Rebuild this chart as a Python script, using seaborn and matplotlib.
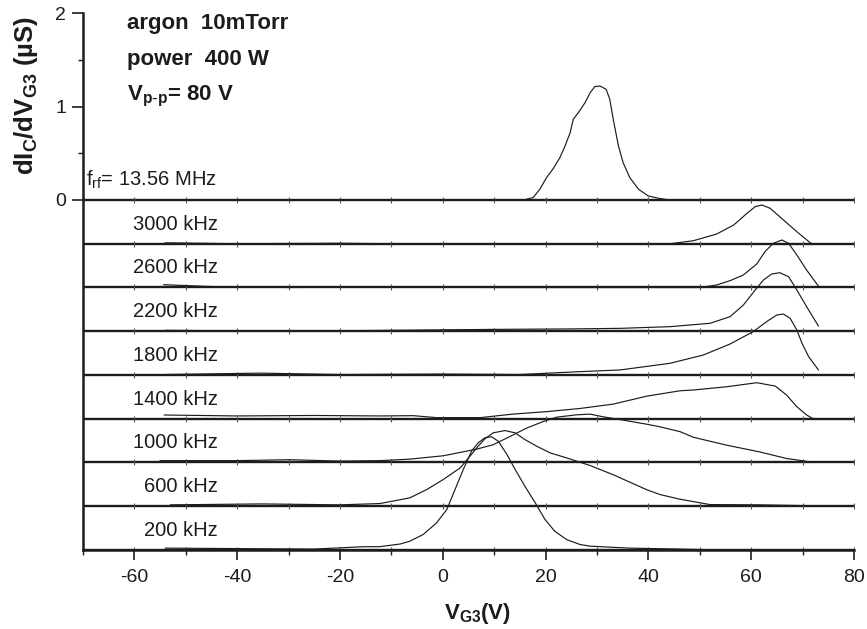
import numpy as np
import matplotlib
matplotlib.use("Agg")
import matplotlib.pyplot as plt
import seaborn as sns

# ---- measured ion energy distributions: retarding voltage V_G3 (V) vs dIc/dV_G3 (uS)
v_13560kHz = [-54, -30, 0, 15.7, 17.6, 18.9, 20.2, 21.5, 22.8, 23.8, 24.8, 25.4, 26.4, 27.7,
              28.7, 29.6, 30.6, 31.8, 32.5, 33.3, 34.2, 35.1, 36.4, 38.1, 40.0, 42.3, 44.2, 72]
g_13560kHz = [0, 0, 0, 0, 0.026, 0.115, 0.24, 0.336, 0.454, 0.578, 0.722, 0.865, 0.936, 1.043,
              1.15, 1.215, 1.221, 1.186, 1.079, 0.829, 0.578, 0.40, 0.24, 0.115, 0.043, 0.015,
              0.0, 0]

v_3000kHz = [-54, -40, -20, 0, 20, 34.5, 44.3, 48.8, 53.3, 56.6, 59.2, 60.8, 62.1, 63.7,
             66.3, 68.9, 71.5, 71.8]
g_3000kHz = [0.01, 0.0, 0.005, -0.005, 0.0, 0.0, 0.0, 0.033, 0.104, 0.20, 0.326, 0.397, 0.415,
             0.38, 0.254, 0.129, 0.011, 0]

v_2600kHz = [-54.3, -45, -30, -10, 10, 30, 50.1, 53.3, 55.9, 58.5, 61.1, 62.7, 64.3, 66.0,
             67.3, 68.9, 70.8, 73.3]
g_2600kHz = [0.03, 0.01, 0.0, 0.005, 0.0, 0.0, 0.0, 0.027, 0.073, 0.134, 0.252, 0.384, 0.473,
             0.509, 0.473, 0.348, 0.187, 0.0]

v_2200kHz = [-54, -30, -10, 10, 25, 34.5, 44.2, 52.0, 55.9, 58.5, 60.8, 62.4, 64.0, 65.6,
             67.3, 68.9, 70.8, 73.1]
g_2200kHz = [0.01, 0.0, 0.01, 0.02, 0.025, 0.031, 0.049, 0.085, 0.156, 0.281, 0.442, 0.549,
             0.613, 0.627, 0.584, 0.442, 0.263, 0.056]

v_1800kHz = [-54, -35.6, -20, 0, 15, 26.3, 34.5, 44.2, 50.7, 55.9, 60.4, 63.0, 65.0, 66.3,
             67.6, 68.9, 69.9, 71.2, 73.1]
g_1800kHz = [0.005, 0.02, 0.005, 0.01, 0.005, 0.035, 0.054, 0.125, 0.214, 0.332, 0.464, 0.571,
             0.643, 0.653, 0.607, 0.482, 0.34, 0.196, 0.054]

v_1400kHz = [-54.2, -40, -25, -12.2, -5.7, -1.2, 7.3, 13.7, 20.2, 26.7, 33.2, 39.7, 42.3,
             46.2, 48.8, 55.3, 61.1, 64.7, 66.9, 68.9, 70.8, 72.1]
g_1400kHz = [0.04, 0.03, 0.035, 0.03, 0.033, 0.012, 0.012, 0.05, 0.076, 0.11, 0.157, 0.242,
             0.265, 0.30, 0.308, 0.343, 0.386, 0.35, 0.254, 0.129, 0.04, 0.0]

v_1000kHz = [-55, -40, -29.8, -20, -12.2, -6.4, 0.1, 6.6, 9.8, 13.1, 16.3, 19.6, 22.2, 26.1,
             28.7, 31.2, 34.5, 39.7, 42.3, 46.2, 48.8, 55.3, 61.7, 66.9, 71.5, 72.5]
g_1000kHz = [0.02, 0.02, 0.03, 0.015, 0.02, 0.036, 0.072, 0.143, 0.19, 0.279, 0.368, 0.44,
             0.486, 0.511, 0.518, 0.49, 0.46, 0.41, 0.382, 0.33, 0.27, 0.185, 0.113, 0.043,
             0.007, 0.0]

v_600kHz = [-53, -35, -20, -12.2, -8.3, -6.4, -3.1, 0.1, 3.4, 5.3, 6.9, 8.2, 9.8, 12.1, 14.1,
            16.0, 18.3, 20.9, 24.1, 28.7, 33.2, 39.7, 42.3, 46.2, 52.0, 61.7, 72]
g_600kHz = [0.015, 0.025, 0.015, 0.029, 0.07, 0.09, 0.179, 0.286, 0.411, 0.536, 0.643, 0.722,
            0.786, 0.811, 0.786, 0.714, 0.643, 0.572, 0.518, 0.436, 0.337, 0.177, 0.125, 0.075,
            0.018, 0.015, 0.005]

v_200kHz = [-54, -40, -25, -15.5, -12.2, -8.3, -6.4, -3.8, -1.2, 0.8, 2.4, 4.0, 5.6, 6.9, 8.2,
            9.5, 10.8, 12.5, 14.1, 16.0, 18.0, 19.9, 21.8, 24.1, 26.7, 28.7, 36.4, 46.2, 54.5]
g_200kHz = [0.02, 0.015, 0.01, 0.035, 0.036, 0.064, 0.094, 0.166, 0.29, 0.434, 0.648, 0.862,
            1.058, 1.148, 1.202, 1.213, 1.166, 1.023, 0.862, 0.683, 0.506, 0.327, 0.201, 0.112,
            0.059, 0.041, 0.02, 0.01, 0.0]

freq_labels = ["3000 kHz", "2600 kHz", "2200 kHz", "1800 kHz",
               "1400 kHz", "1000 kHz", "600 kHz", "200 kHz"]
top_label = r"f$_{rf}$= 13.56 MHz"
conditions = ["argon  10mTorr", "power  400 W", r"V$_{p\text{-}p}$= 80 V"]

x_major = [-60, -40, -20, 0, 20, 40, 60, 80]
y_major = [0, 1, 2]

curves = [
    (v_13560kHz, g_13560kHz),
    (v_3000kHz, g_3000kHz),
    (v_2600kHz, g_2600kHz),
    (v_2200kHz, g_2200kHz),
    (v_1800kHz, g_1800kHz),
    (v_1400kHz, g_1400kHz),
    (v_1000kHz, g_1000kHz),
    (v_600kHz, g_600kHz),
    (v_200kHz, g_200kHz),
]

# ---- style
sns.set_theme(style="ticks")
plt.rcParams["font.family"] = ["Liberation Sans", "DejaVu Sans"]
plt.rcParams["mathtext.default"] = "regular"
plt.rcParams["axes.unicode_minus"] = False
INK = "#1c1c1c"

STEP = 0.4687           # vertical offset between stacked traces
X_MIN, X_MAX = -70, 80

fig = plt.figure(figsize=(8.67, 6.29), dpi=100)
ax = fig.add_axes([82.9 / 867, 1 - 550 / 629, (853.9 - 82.9) / 867, (550 - 13.3) / 629])

x_minor = np.arange(X_MIN, X_MAX + 1, 10)

for k, (v, g) in enumerate(curves):
    base = -STEP * k
    ax.axhline(base, color=INK, lw=1.7, zorder=2)
    ax.plot(x_minor, np.full(len(x_minor), base), ls="none", marker="|",
            ms=4.5, mew=0.8, color="#555555", zorder=2)
    sns.lineplot(x=v, y=np.asarray(g) + base, ax=ax, color=INK, lw=0.85,
                 sort=False, estimator=None, zorder=3,
                 solid_joinstyle="round", solid_capstyle="round")

for k, lab in enumerate(freq_labels, start=1):
    ax.text(-43.8, -STEP * k + 0.21, lab, ha="right", va="center",
            fontsize=14.5, color=INK)

ax.text(-69.4, 0.214, top_label, ha="left", va="center", fontsize=14.5, color=INK)

for lab, yb in zip(conditions, [1.83, 1.447, 1.072]):
    ax.text(-61.4, yb, lab, ha="left", va="baseline", fontsize=16,
            fontweight="bold", color=INK)

ax.set_xlim(X_MIN, X_MAX)
ax.set_ylim(-STEP * 8, 2)
ax.set_xticks(x_major)
ax.set_xticks(x_minor, minor=True)
ax.set_yticks(y_major)
ax.set_yticks([0.5, 1.5], minor=True)

for side in ("top", "right"):
    ax.spines[side].set_visible(False)
for side in ("left", "bottom"):
    ax.spines[side].set_linewidth(1.8)
    ax.spines[side].set_color(INK)

ax.tick_params(axis="x", which="major", direction="out", length=7.5, width=1.2,
               color=INK, labelsize=14, labelcolor=INK, pad=6)
ax.tick_params(axis="y", which="major", direction="out", length=8, width=1.2,
               color=INK, labelsize=14, labelcolor=INK, pad=4)
ax.tick_params(axis="both", which="minor", direction="out", length=3.5, width=1.0, color=INK)

ax.set_xlabel(r"V$_{G3}$(V)", fontsize=16, fontweight="bold", color=INK)
ax.set_ylabel(r"dI$_C$/dV$_{G3}$ (µS)", fontsize=18.5, fontweight="bold", color=INK)
ax.xaxis.set_label_coords(0.512, -0.095)
ax.yaxis.set_label_coords(-0.055, 0.847)

fig.savefig("out.png", dpi=100)
